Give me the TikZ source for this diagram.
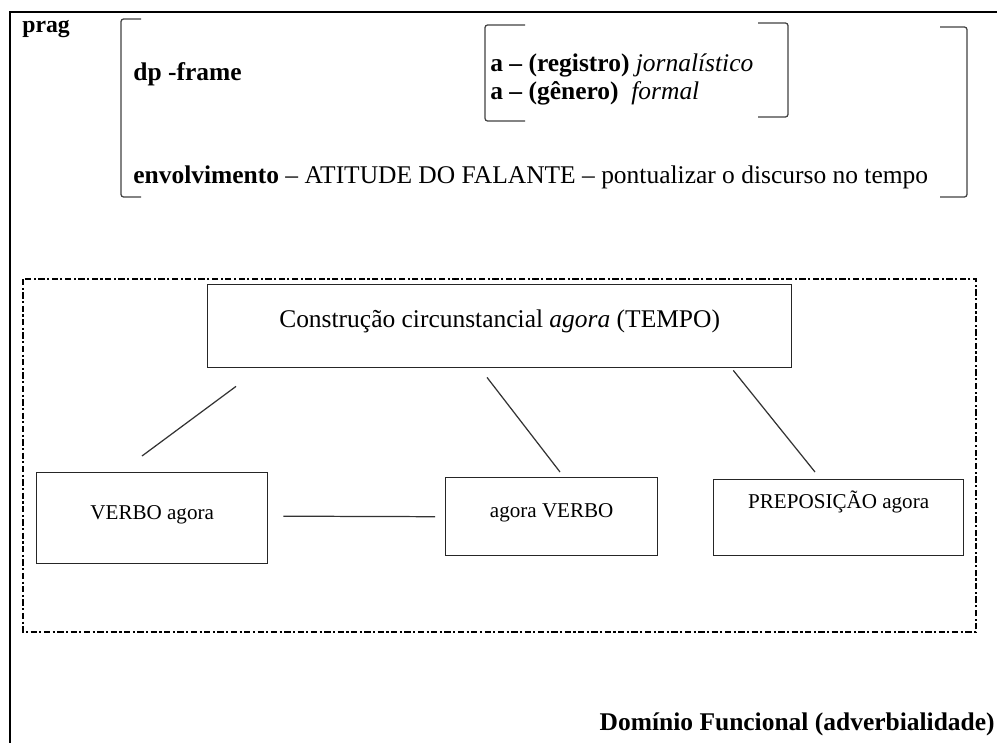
\documentclass[tikz,border=0pt]{standalone}
\usepackage{fontspec}
\setmainfont{Liberation Serif}
\usetikzlibrary{calc}

\begin{document}
\begin{tikzpicture}[x=0.02cm,y=-0.02cm,
  bx/.style={draw=black!85,line width=0.8pt,inner sep=0pt,anchor=north west,font=\fontsize{12}{14}\selectfont},
  br/.style={draw=black!75,line width=0.7pt,rounded corners=1.5pt},
  ln/.style={draw=black!80,line width=0.7pt},
  t/.style={inner sep=0pt,anchor=base west,font=\fontsize{14.5}{17}\selectfont},
  tb/.style={t,font=\bfseries\fontsize{14.5}{17}\selectfont},
  dd/.style={line width=1.6pt,dash pattern=on 3.6pt off 1.4pt on 1.2pt off 1.4pt}]
  \useasboundingbox (0,0) rectangle (997,743);
  \draw[line width=0.6pt] (10,743) -- (10,12) -- (997,12);

  \node[tb,font=\bfseries\fontsize{13.5}{15}\selectfont] (prag) at (22,33) {prag};
  \draw[br] (141,19) -- (121,19) -- (121,197) -- (141,197);
  \draw[br] (940,27) -- (967,27) -- (967,197) -- (940,197);
  \node[tb] (dp) at (133,81) {dp -frame};
  \draw[br] (525,25) -- (485,25) -- (485,121) -- (525,121);
  \draw[br] (758,23) -- (788,23) -- (788,117) -- (758,117);
  \node[t] (reg) at (490,72) {\textbf{a – (registro)} \textit{jornalístico}};
  \node[t] (gen) at (490,100) {\textbf{a – (gênero)}\ \ \textit{formal}};
  \node[t] (env) at (133,184) {\textbf{envolvimento} – ATITUDE DO FALANTE – pontualizar o discurso no tempo};

  \draw[dd] (23,279) rectangle (976,632);
  \node[bx,font=\fontsize{14.5}{17}\selectfont,minimum width=11.68cm,text height=0.86cm,text depth=0.80cm] (top) at (207,284) {Construção circunstancial \textit{agora} (TEMPO)};
  \node[bx,minimum width=4.62cm,text height=0.94cm,text depth=0.88cm] (vagora) at (36,472) {VERBO agora};
  \node[bx,minimum width=4.24cm,text height=0.8cm,text depth=0.76cm] (agorav) at (445,477) {agora VERBO};
  \node[bx,minimum width=5cm,text height=0.58cm,text depth=0.94cm] (prep) at (713,479) {PREPOSIÇÃO agora};

  \draw[ln] ($(top.south west)+(29,18)$) -- ($(vagora.north west)+(106,-16)$);
  \draw[ln] ($(top.south west)+(280,9)$) -- ($(agorav.north west)+(115,-5)$);
  \draw[ln] ($(top.south east)+(-59,2)$) -- ($(prep.north west)+(102,-7)$);
  \draw[ln] ($(vagora.east)+(15,-2)$) -- ($(agorav.west)+(-10,0)$);

  \node[tb,anchor=base east] (dom) at (995,730) {Domínio Funcional (adverbialidade)};
\end{tikzpicture}
\end{document}
